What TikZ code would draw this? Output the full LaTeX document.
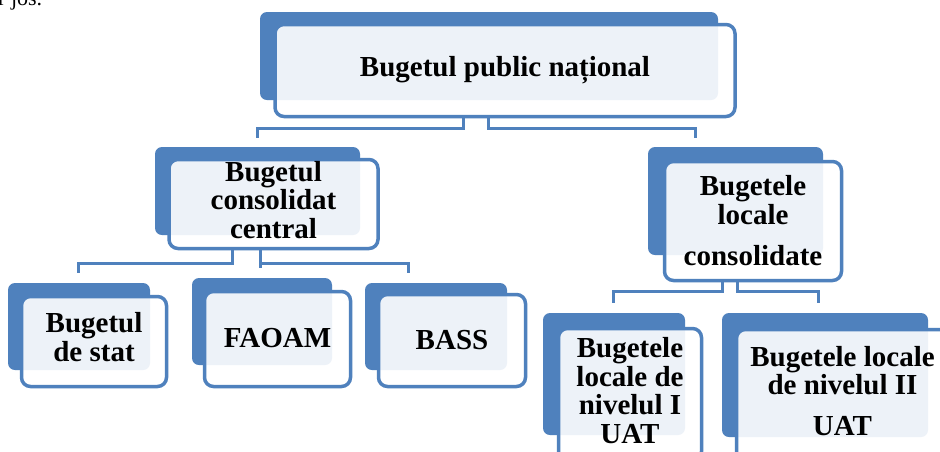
\documentclass[tikz,border=0pt]{standalone}
\usepackage{fontspec}
\setmainfont{Liberation Serif}
\usetikzlibrary{calc}
\definecolor{sablue}{HTML}{4F81BD}
\tikzset{
  backbox/.style={fill=sablue, draw=none, rounded corners=7pt, inner sep=0pt},
  frontbox/.style={draw=sablue, line width=3.5pt, fill=white, fill opacity=0.9, text opacity=1,
    rounded corners=9pt, inner sep=0pt, align=center,
    font=\fontsize{29}{28.5}\selectfont\bfseries},
  link/.style={draw=sablue, line width=3pt}
}
\begin{document}
\begin{tikzpicture}[x=1pt,y=-1pt]
\useasboundingbox (0,0) rectangle (940,451);
\clip (0,0) rectangle (940,451);
\fill[white] (0,0) rectangle (940,451);
\node[anchor=base west, inner sep=0pt, font=\fontsize{22}{24}\selectfont] (cut) at (-2,5) {r jos.};
% back rectangles
\node[backbox, minimum width=458pt, minimum height=88pt] (topb) at (489,56) {};
\node[backbox, minimum width=205pt, minimum height=88pt] (bccb) at (257.5,191) {};
\node[backbox, minimum width=175pt, minimum height=108pt] (blcb) at (735.5,201) {};
\node[backbox, minimum width=142pt, minimum height=87pt] (bdsb) at (79,326.5) {};
\node[backbox, minimum width=140pt, minimum height=87pt] (faoamb) at (262,321.5) {};
\node[backbox, minimum width=142pt, minimum height=87pt] (bassb) at (436,326.5) {};
\node[backbox, minimum width=142pt, minimum height=122pt] (n1b) at (614,374) {};
\node[backbox, minimum width=206pt, minimum height=124pt] (n2b) at (825,375) {};
% front boxes
\node[frontbox, minimum width=460pt, minimum height=92pt] (top) at (505,70.5) {Bugetul public național};
\node[frontbox, minimum width=209pt, minimum height=89pt] (bcc) at (273.5,204) {\raisebox{-2pt}{\begin{tabular}{@{}c@{}}Bugetul\\consolidat\\central\end{tabular}}};
\node[frontbox, minimum width=177pt, minimum height=119pt] (blc) at (753,221) {Bugetele\\locale\\[13pt]consolidate};
\node[frontbox, minimum width=145pt, minimum height=90pt] (bds) at (94,341.5) {\raisebox{-1pt}{\begin{tabular}{@{}c@{}}Bugetul\\de stat\end{tabular}}};
\node[frontbox, minimum width=146pt, minimum height=95pt] (faoam) at (277.5,339) {\raisebox{3pt}{FAOAM}};
\node[frontbox, minimum width=147pt, minimum height=92pt] (bass) at (452,340.5) {BASS};
\node[frontbox, minimum width=143pt, minimum height=132pt] (n1) at (630,394.5) {\raisebox{4pt}{\begin{tabular}{@{}c@{}}Bugetele\\locale de\\nivelul I\\UAT\end{tabular}}};
\node[frontbox, minimum width=212pt, minimum height=131pt] (n2) at (842.5,395) {\raisebox{4pt}{\begin{tabular}{@{}c@{}}Bugetele locale\\de nivelul II\\[12pt]UAT\end{tabular}}};
% connectors
\draw[link] ([xshift=-42pt]top.south) -- ++(0,10.5) -| ($(bccb.north)+(0,-9)$);
\draw[link] ([xshift=-17pt]top.south) -- ++(0,10.5) -| ($(blcb.north)+(-40,-9)$);
\draw[link] ([xshift=-41.5pt]bcc.south) -- ++(0,13.5) -| ($(bdsb.north)+(-1,-10)$);
\draw[link] ([xshift=-13.5pt]bcc.south) -- ($(bcc.south |- faoamb.north)+(-13.5,-10)$);
\draw[link] ([xshift=-13.5pt]bcc.south) -- ++(0,13.5) -| ($(bassb.north)+(-28,-10)$);
\draw[link] ([xshift=-31pt]blc.south) -- ++(0,9.5) -| ($(n1b.north)+(-1,-10)$);
\draw[link] ([xshift=-16pt]blc.south) -- ++(0,9.5) -| ($(n2b.north)+(-7,-10)$);
\end{tikzpicture}
\end{document}
